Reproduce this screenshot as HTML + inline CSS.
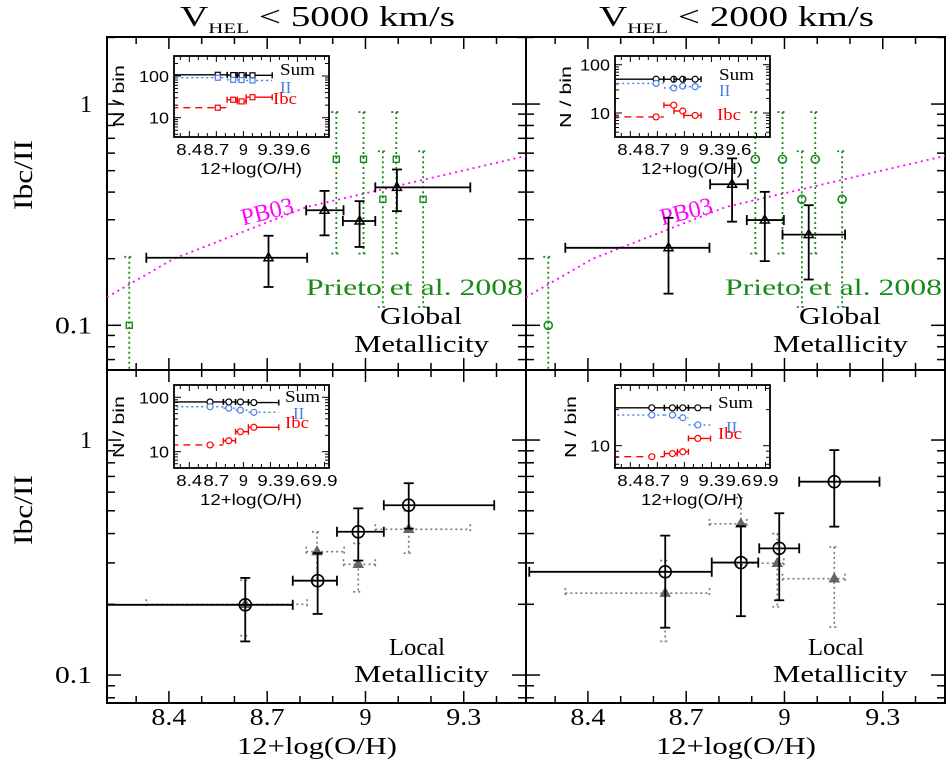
<!DOCTYPE html>
<html><head><meta charset="utf-8"><style>
html,body{margin:0;padding:0;background:#fff;}
svg{display:block;}
text{font-family:"Liberation Serif",serif;}
.s{font-family:"Liberation Sans",sans-serif;}
</style></head><body>
<svg id="chart" width="946" height="763" viewBox="0 0 946 763" xmlns="http://www.w3.org/2000/svg">
<g id="layer"></g>
<text x="180" y="26" font-size="28" textLength="275" lengthAdjust="spacingAndGlyphs">V<tspan font-size="15" dy="7">HEL</tspan><tspan dy="-7"> &lt; 5000 km/s</tspan></text>
<text x="599" y="26" font-size="28" textLength="275" lengthAdjust="spacingAndGlyphs">V<tspan font-size="15" dy="7">HEL</tspan><tspan dy="-7"> &lt; 2000 km/s</tspan></text>
<text x="237" y="754" font-size="24" textLength="160" lengthAdjust="spacingAndGlyphs">12+log(O/H)</text>
<text x="656" y="754" font-size="24" textLength="160" lengthAdjust="spacingAndGlyphs">12+log(O/H)</text>
<text transform="translate(32,210) rotate(-90)" font-size="26" textLength="70" lengthAdjust="spacingAndGlyphs">Ibc/II</text>
<text transform="translate(32,545) rotate(-90)" font-size="26" textLength="70" lengthAdjust="spacingAndGlyphs">Ibc/II</text>
</svg>
<script>
// ---- main panel data ----
const prietoX=[8.279,8.911,8.994,9.053,9.094,9.176];
const prietoY=[0.1,0.563,0.563,0.371,0.563,0.371];
const prietoYhi=[0.204,0.92,0.92,0.612,0.92,0.612];
const prietoYlo=[0.03,0.211,0.211,0.121,0.211,0.121];
const pbX=[8.211,8.415,8.822,9.127,9.49];
const pbY=[0.134,0.200,0.343,0.437,0.583];
const tlX=[8.704,8.875,8.982,9.096];
const tlY=[0.202,0.331,0.296,0.42];
const tlXlo=[8.331,8.819,8.931,9.030];
const tlXhi=[8.822,8.933,9.030,9.320];
const tlYlo=[0.149,0.255,0.226,0.328];
const tlYhi=[0.254,0.405,0.364,0.506];
const trX=[8.646,8.840,8.940,9.074];
const trY=[0.224,0.434,0.299,0.257];
const trXlo=[8.331,8.773,8.885,8.994];
const trXhi=[8.771,8.888,8.998,9.185];
const trYlo=[0.139,0.294,0.195,0.161];
const trYhi=[0.306,0.568,0.401,0.349];
const blX=[8.633,8.854,8.978,9.132];
const blY=[0.199,0.252,0.407,0.528];
const blXlo=[8.2,8.778,8.913,9.056];
const blXhi=[8.778,8.913,9.056,9.393];
const blYlo=[0.139,0.182,0.307,0.42];
const blYhi=[0.259,0.330,0.512,0.655];
const blgX=[8.633,8.852,8.978,9.132];
const blgY=[0.20,0.335,0.296,0.417];
const blgXlo=[8.331,8.819,8.933,9.03];
const blgXhi=[8.822,8.935,9.03,9.32];
const blgYlo=[0.147,0.255,0.226,0.33];
const blgYhi=[0.253,0.407,0.363,0.50];
const brX=[8.636,8.867,8.984,9.152];
const brY=[0.275,0.301,0.346,0.665];
const brXlo=[8.221,8.778,8.923,9.045];
const brXhi=[8.778,8.920,9.045,9.29];
const brYlo=[0.159,0.178,0.208,0.428];
const brYhi=[0.392,0.43,0.488,0.906];
const brgX=[8.636,8.867,8.978,9.152];
const brgY=[0.223,0.44,0.299,0.257];
const brgXlo=[8.331,8.771,8.885,8.994];
const brgXhi=[8.771,8.885,8.998,9.185];
const brgYlo=[0.139,0.294,0.195,0.16];
const brgYhi=[0.307,0.568,0.40,0.351];
// ---- inset data ----
const tlSum=[107,105,105,104];
const tlII=[91,81,80,78];
const tlIbc=[17.4,27,24.6,31];
const trSum=[50,50,50,50];
const trII=[41,33,36,35];
const trIbc=[8.3,14.5,11,8.9];
const blSum=[82,82,82,80];
const blII=[67,63,58,53];
const blIbc=[13.3,15.9,23.3,28.1];
const brSum=[20.7,20.7,20.7,20.7];
const brII=[18,18,17.1,14.9];
const brIbc=[8.1,8.6,8.9,11.5];
const xTicks=[8.4,8.7,9,9.3];
const insetTicksTop=[8.4,8.7,9,9.3,9.6];
const insetTicksBot=[8.4,8.7,9,9.3,9.6,9.9];

const NS="http://www.w3.org/2000/svg";
const layer=document.getElementById('layer');
function mk(tag,attrs,parent){const e=document.createElementNS(NS,tag);for(const k in attrs)e.setAttribute(k,attrs[k]);(parent||layer).appendChild(e);return e;}
const XMIN=8.211,XMAX=9.49;
const P={
 tl:{x0:107,x1:526,y0:37,y1:370,lmin:-1.202,lmax:0.303},
 tr:{x0:526,x1:945,y0:37,y1:370,lmin:-1.202,lmax:0.303},
 bl:{x0:107,x1:526,y0:370,y1:703,lmin:-1.119,lmax:0.298},
 br:{x0:526,x1:945,y0:370,y1:703,lmin:-1.119,lmax:0.298}};
function sx(p,v){return p.x0+(v-XMIN)/(XMAX-XMIN)*(p.x1-p.x0);}
function sy(p,v){return p.y1-(Math.log10(v)-p.lmin)/(p.lmax-p.lmin)*(p.y1-p.y0);}

function frame(p,key,labelY){
  const g=mk('g',{});
  
  
  const cp=mk('clipPath',{id:'c'+key},g);mk('rect',{x:p.x0,y:p.y0,width:p.x1-p.x0,height:p.y1-p.y0},cp);
  for(let v=8.3;v<9.49;v+=0.1){const x=sx(p,v);const maj=xTicks.some(t=>Math.abs(t-v)<0.01);const L=maj?12:7;
    mk('line',{x1:x,y1:p.y1,x2:x,y2:p.y1-L,stroke:'#000','stroke-width':1.5},g);
    mk('line',{x1:x,y1:p.y0,x2:x,y2:p.y0+L,stroke:'#000','stroke-width':1.5},g);}
  for(let d=-2;d<=0;d++)for(let m=1;m<10;m++){const v=m*Math.pow(10,d);const l=Math.log10(v);if(l<p.lmin||l>p.lmax)continue;
    const y=sy(p,v);const L=m==1?14:8;
    mk('line',{x1:p.x0,y1:y,x2:p.x0+L,y2:y,stroke:'#000','stroke-width':1.5},g);
    mk('line',{x1:p.x1,y1:y,x2:p.x1-L,y2:y,stroke:'#000','stroke-width':1.5},g);}
  mk('rect',{x:p.x0,y:p.y0,width:p.x1-p.x0,height:p.y1-p.y0,fill:'none',stroke:'#000','stroke-width':2},g);
  if(labelY){[[1,'1',12],[0.1,'0.1',37]].forEach(([v,t,w])=>{const tx=mk('text',{x:92-w,y:sy(p,v)+8,'font-size':24,textLength:w,lengthAdjust:'spacingAndGlyphs'});tx.textContent=t;
    
    });}
  return g;
}
function errs(p,key,X,Y,Xlo,Xhi,Ylo,Yhi,opt){
  const g=mk('g',{'clip-path':'url(#c'+key+')'});
  
  
  const st={stroke:opt.color,'stroke-width':opt.w||1.8,fill:'none'};if(opt.dash)st['stroke-dasharray']=opt.dash;
  for(let i=0;i<X.length;i++){
    const x=sx(p,X[i]),y=sy(p,Y[i]);
    if(Xlo){const a=sx(p,Xlo[i]),b=sx(p,Xhi[i]);
      mk('line',Object.assign({x1:a,y1:y,x2:b,y2:y},st),g);
      mk('line',Object.assign({x1:a,y1:y-5,x2:a,y2:y+5},st),g);
      mk('line',Object.assign({x1:b,y1:y-5,x2:b,y2:y+5},st),g);}
    const a=sy(p,Yhi[i]),b=sy(p,Ylo[i]);
    mk('line',Object.assign({x1:x,y1:a,x2:x,y2:b},st),g);
    mk('line',Object.assign({x1:x-5,y1:a,x2:x+5,y2:a},st),g);
    mk('line',Object.assign({x1:x-5,y1:b,x2:x+5,y2:b},st),g);
    let m;
    if(opt.marker=='tri')m=mk('path',{d:`M${x},${y-5}L${x+4.5},${y+3}L${x-4.5},${y+3}Z`,fill:opt.fill||'none',stroke:opt.mcolor||opt.color,'stroke-width':1.5},g);
    else if(opt.marker=='circ')m=mk('circle',{cx:x,cy:y,r:opt.r||6,fill:'none',stroke:opt.color,'stroke-width':1.6},g);
    else m=mk('rect',{x:x-3,y:y-3,width:6,height:6,fill:'none',stroke:opt.color,'stroke-width':1.4},g);
    
    
  }
}
function pb(p,key,lx){
  const pts=pbX.map((v,i)=>sx(p,v)+','+sy(p,pbY[i])).join(' ');
  const l=mk('polyline',{points:pts,fill:'none',stroke:'#f0f','stroke-width':1.8,'stroke-dasharray':'2,4','clip-path':'url(#c'+key+')'});
  
  
  const t=mk('text',{x:0,y:0,'font-size':24,fill:'#f0f','text-anchor':'middle',transform:`translate(${lx},219) rotate(-14)`});t.textContent='PB03';
  
  
}
function label(x,y,txt,size,color,name,len){
  const t=mk('text',{x:x,y:y,'font-size':size,fill:color});if(len){t.setAttribute('textLength',len);t.setAttribute('lengthAdjust','spacingAndGlyphs');}
  t.textContent=txt;
  
  
  return t;
}
function inset(bx,by,h,lmin,lmax,key,X,Xlo,Xhi,sum,ii,ibc,mark,ticks,yl,ylx,leg){
  const w=155;const IX0=8.23,IX1=9.95;
  const g=mk('g',{});
  
  
  const ix=v=>bx+(v-IX0)/(IX1-IX0)*w;
  const iy=v=>by+h-(Math.log10(v)-lmin)/(lmax-lmin)*h;
  const cp=mk('clipPath',{id:'i'+key},g);mk('rect',{x:bx,y:by,width:w,height:h},cp);
  const inner=mk('g',{'clip-path':'url(#i'+key+')'},g);
  for(let v=8.3;v<9.95;v+=0.1){const x=ix(v);const maj=ticks.some(t=>Math.abs(t-v)<0.01);const L=maj?6:4;
    mk('line',{x1:x,y1:by+h,x2:x,y2:by+h-L,stroke:'#000'},inner);mk('line',{x1:x,y1:by,x2:x,y2:by+L,stroke:'#000'},inner);}
  for(let d=0;d<=2;d++)for(let m=1;m<10;m++){const v=m*Math.pow(10,d);const l=Math.log10(v);if(l<lmin||l>lmax)continue;const y=iy(v);const L=m==1?7:4;
    mk('line',{x1:bx,y1:y,x2:bx+L,y2:y,stroke:'#000'},inner);mk('line',{x1:bx+w,y1:y,x2:bx+w-L,y2:y,stroke:'#000'},inner);}
  const series=[[sum,'#000',null,'inset-sum'],[ii,'#4a7fe8','2,3','inset-ii'],[ibc,'#f00',null,'inset-ibc']];
  series.forEach(([S,c,dash,nm])=>{
    const sg=mk('g',{},inner);
    
    
    for(let i=0;i<X.length;i++){
      const x=ix(X[i]),y=iy(S[i]);const a=ix(i==0?8.2:Xlo[i]),b=ix(Xhi[i]);
      const ds=dash||(nm=='inset-ibc'&&i==0?'7,5':null);
      const st={stroke:c,'stroke-width':1.4};if(ds)st['stroke-dasharray']=ds;
      mk('line',Object.assign({x1:a,y1:y,x2:b,y2:y},st),sg);
      if(!ds){mk('line',{x1:a,y1:y-3,x2:a,y2:y+3,stroke:c,'stroke-width':1.4},sg);mk('line',{x1:b,y1:y-3,x2:b,y2:y+3,stroke:c,'stroke-width':1.4},sg);}
      let m;
      if(mark=='sq')m=mk('rect',{x:x-2.5,y:y-2.5,width:5,height:5,fill:'#fff',stroke:c,'stroke-width':1.2},sg);
      else m=mk('circle',{cx:x,cy:y,r:3,fill:'#fff',stroke:c,'stroke-width':1.2},sg);
      
      
    }
  });
  mk('rect',{x:bx,y:by,width:w,height:h,fill:'none',stroke:'#000','stroke-width':1.8},g);
  ticks.forEach(t=>{const s=String(t);const tw=s.length==1?9:26;const tx=mk('text',{x:ix(t)-tw/2,y:by+h+18,'font-size':16,'class':'s',textLength:tw,lengthAdjust:'spacingAndGlyphs'},g);tx.textContent=s;
    
    });
  [[100,'100',30],[10,'10',20]].forEach(([v,t,tw])=>{const l=Math.log10(v);if(l<lmin||l>lmax)return;const tx=mk('text',{x:bx-5-tw,y:iy(v)+6,'font-size':16,'class':'s',textLength:tw,lengthAdjust:'spacingAndGlyphs'},g);tx.textContent=t;
    
    });
  const xl=mk('text',{x:bx+26,y:by+h+37,'font-size':16,'class':'s',textLength:102,lengthAdjust:'spacingAndGlyphs'},g);xl.textContent='12+log(O/H)';
  
  
  const yt=mk('text',{x:-31,y:0,'font-size':16,'class':'s',textLength:62,lengthAdjust:'spacingAndGlyphs',transform:`translate(${ylx+6},${yl}) rotate(-90)`},g);yt.textContent='N / bin';
  
  
  const l1=mk('text',{x:leg[0],y:leg[1],'font-size':17,textLength:35,lengthAdjust:'spacingAndGlyphs'},g);l1.textContent='Sum';
  
  
  const l2=mk('text',{x:leg[2],y:leg[3],'font-size':17,fill:'#4a7fe8'},g);l2.textContent='II';
  
  
  const l3=mk('text',{x:leg[4],y:leg[5],'font-size':17,fill:'#f00',textLength:24,lengthAdjust:'spacingAndGlyphs'},g);l3.textContent='Ibc';
  
  
}

// panels
frame(P.tl,'tl',true);frame(P.tr,'tr',false);frame(P.bl,'bl',true);frame(P.br,'br',false);
// x tick labels
[['bl',P.bl],['br',P.br]].forEach(([k,p])=>xTicks.forEach(t=>{const s=String(t);const tw=s.length==1?12:35;const tx=mk('text',{x:sx(p,t)-tw/2,y:725,'font-size':24,textLength:tw,lengthAdjust:'spacingAndGlyphs'});tx.textContent=s;
  
  }));

// top-left
pb(P.tl,'tl',269);
errs(P.tl,'tl',prietoX,prietoY,null,null,prietoYlo,prietoYhi,{name:'prieto-2008',color:'#1a8a1a',dash:'2,3',marker:'sq',w:1.8});
errs(P.tl,'tl',tlX,tlY,tlXlo,tlXhi,tlYlo,tlYhi,{name:'global-ratio',color:'#000',marker:'tri'});
label(306,295,'Prieto et al. 2008',23,'#1a8a1a','prieto-label',217);
label(380,324,'Global',24,'#000','global-label',82);
label(354,352,'Metallicity',24,'#000','metallicity-label',135);
// top-right
pb(P.tr,'tr',688);
errs(P.tr,'tr',prietoX,prietoY,null,null,prietoYlo,prietoYhi,{name:'prieto-2008',color:'#1a8a1a',dash:'2,3',marker:'circ',r:4,w:1.8});
errs(P.tr,'tr',trX,trY,trXlo,trXhi,trYlo,trYhi,{name:'global-ratio',color:'#000',marker:'tri'});
label(725,295,'Prieto et al. 2008',23,'#1a8a1a','prieto-label',217);
label(799,324,'Global',24,'#000','global-label',82);
label(773,352,'Metallicity',24,'#000','metallicity-label',135);
// bottom-left
errs(P.bl,'bl',blgX,blgY,blgXlo,blgXhi,blgYlo,blgYhi,{name:'global-ratio-ref',color:'#777',dash:'2,3',marker:'tri',fill:'#666',mcolor:'#666',w:1.6});
errs(P.bl,'bl',blX,blY,blXlo,blXhi,blYlo,blYhi,{name:'local-ratio',color:'#000',marker:'circ'});
label(389,655,'Local',24,'#000','local-label',56);
label(354,682,'Metallicity',24,'#000','metallicity-label',135);
// bottom-right
errs(P.br,'br',brgX,brgY,brgXlo,brgXhi,brgYlo,brgYhi,{name:'global-ratio-ref',color:'#777',dash:'2,3',marker:'tri',fill:'#666',mcolor:'#666',w:1.6});
errs(P.br,'br',brX,brY,brXlo,brXhi,brYlo,brYhi,{name:'local-ratio',color:'#000',marker:'circ'});
label(808,655,'Local',24,'#000','local-label',56);
label(773,682,'Metallicity',24,'#000','metallicity-label',135);

// insets
inset(174,56,81,0.537,2.48,'tl',[8.716,8.887,8.98,9.101],tlXlo,tlXhi,tlSum,tlII,tlIbc,'sq',insetTicksTop,96,118,[280,75,280,93,273,104]);
inset(615,56,81,0.503,2.18,'tr',[8.686,8.882,8.982,9.119],trXlo,trXhi,trSum,trII,trIbc,'c',insetTicksTop,97,565,[719,80,719,96,717,120]);
inset(174,385,83,0.70,2.226,'bl',[8.63,8.838,8.967,9.116],blXlo,blXhi,blSum,blII,blIbc,'c',insetTicksBot,427,118,[285,402,293,419,285,428]);
inset(615,385,83,0.814,1.506,'br',[8.638,8.867,8.982,9.149],brXlo,brXhi,brSum,brII,brIbc,'c',insetTicksBot,427,570,[718,408,726,433,718,439]);
</script>
</body></html>
